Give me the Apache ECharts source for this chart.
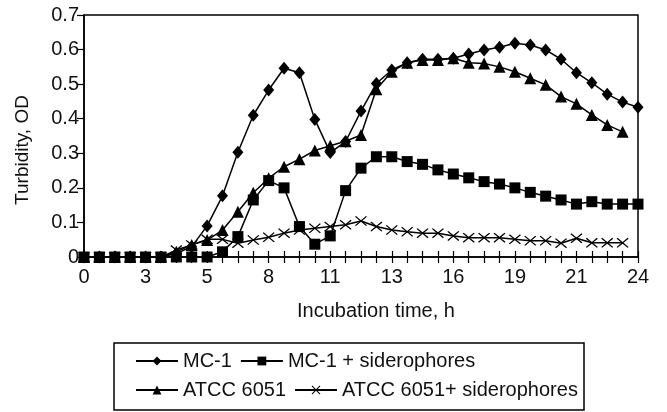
<!DOCTYPE html>
<html>
<head>
<meta charset="utf-8">
<script src="https://cdn.jsdelivr.net/npm/echarts@6/dist/echarts.min.js"></script>
<style>
  html, body { margin: 0; padding: 0; background: #fff; }
  #chart { width: 667px; height: 412px; }
</style>
</head>
<body>
<div id="chart"></div>
<script>
// Sampling every 40 min, 0 - 24 h
const times = [
  "0:00", "0:40", "1:20", "2:00", "2:40", "3:20", "4:00", "4:40", "5:20", "6:00",
  "6:40", "7:20", "8:00", "8:40", "9:20", "10:00", "10:40", "11:20", "12:00", "12:40",
  "13:20", "14:00", "14:40", "15:20", "16:00", "16:40", "17:20", "18:00", "18:40", "19:20",
  "20:00", "20:40", "21:20", "22:00", "22:40", "23:20", "24:00",
];
const tickLabels = ["0", "3", "5", "8", "11", "13", "16", "19", "21", "24"];

const mc1 = [
  0, 0, 0, 0, 0, 0, 0.01, 0.03, 0.09, 0.177,
  0.303, 0.41, 0.483, 0.546, 0.533, 0.398, 0.302, 0.334, 0.422, 0.502,
  0.541, 0.562, 0.572, 0.572, 0.575, 0.587, 0.599, 0.607, 0.618, 0.613,
  0.599, 0.572, 0.533, 0.504, 0.471, 0.448, 0.433,
];
const mc1Sid = [
  0, 0, 0, 0, 0, 0, 0, 0, 0, 0.015,
  0.059, 0.165, 0.221, 0.2, 0.088, 0.037, 0.061, 0.192, 0.257, 0.29,
  0.29, 0.276, 0.268, 0.252, 0.24, 0.229, 0.218, 0.211, 0.2, 0.187,
  0.176, 0.165, 0.153, 0.16, 0.153, 0.153, 0.153,
];
const atcc = [
  0, 0, 0, 0, 0, 0, 0.015, 0.035, 0.049, 0.078,
  0.131, 0.186, 0.228, 0.261, 0.283, 0.308, 0.322, 0.335, 0.353, 0.485,
  0.536, 0.562, 0.57, 0.57, 0.575, 0.562, 0.56, 0.55, 0.536, 0.517,
  0.498, 0.464, 0.443, 0.411, 0.382, 0.362, null,
];
const atccSid = [
  0, 0, 0, 0, 0, 0, 0.02, 0.035, 0.051, 0.051,
  0.04, 0.049, 0.057, 0.069, 0.078, 0.083, 0.088, 0.093, 0.104, 0.088,
  0.078, 0.073, 0.069, 0.069, 0.061, 0.056, 0.056, 0.056, 0.051, 0.047,
  0.047, 0.04, 0.054, 0.041, 0.041, 0.041, null,
];

const FONT = "'Liberation Sans', Arial, Helvetica, sans-serif";
const crossPath =
  "path://M0,0.8L0.8,0L5,4.2L9.2,0L10,0.8L5.8,5L10,9.2L9.2,10L5,5.8L0.8,10L0,9.2L4.2,5Z";

const chart = echarts.init(document.getElementById("chart"));

function makeSeries(name, data, symbol, size) {
  return {
    name: name,
    type: "line",
    data: data,
    symbol: symbol,
    symbolSize: size,
    showAllSymbol: true,
    connectNulls: false,
    lineStyle: { color: "#000", width: 1.5 },
    itemStyle: { color: "#000", borderWidth: 0 },
    emphasis: { disabled: true },
    animation: false,
  };
}

const legendCommon = {
  left: 130,
  itemWidth: 42,
  itemHeight: 11,
  itemGap: 8,
  textStyle: { fontFamily: FONT, fontSize: 20, color: "#111" },
  selectedMode: false,
};

const option = {
  backgroundColor: "#fff",
  grid: {
    left: 84,
    right: 29,
    top: 15,
    bottom: 155,
    show: true,
    borderColor: "#000",
    borderWidth: 1.5,
  },
  xAxis: [
    {
      type: "category",
      data: times,
      boundaryGap: false,
      name: "Incubation time, h",
      nameLocation: "middle",
      nameGap: 44,
      nameTextStyle: { fontFamily: FONT, fontSize: 20, color: "#111", padding: [0, 0, 0, 30] },
      axisLine: { lineStyle: { color: "#000", width: 1.5 } },
      axisTick: { show: true, interval: 0, length: 6, lineStyle: { color: "#000", width: 1.2 } },
      axisLabel: {
        interval: 3,
        margin: 10,
        fontFamily: FONT,
        fontSize: 20,
        color: "#111",
        formatter: (v, i) => tickLabels[i / 4],
      },
      splitLine: { show: false },
    },
    {
      // inner half of the crossing ticks
      type: "category",
      data: times,
      boundaryGap: false,
      position: "bottom",
      axisLine: { show: false },
      axisTick: { show: true, inside: true, interval: 0, length: 6, lineStyle: { color: "#000", width: 1.2 } },
      axisLabel: { show: false },
      splitLine: { show: false },
    },
  ],
  yAxis: {
    type: "value",
    min: 0,
    max: 0.7,
    interval: 0.1,
    name: "Turbidity, OD",
    nameLocation: "middle",
    nameGap: 52,
    nameTextStyle: { fontFamily: FONT, fontSize: 19, color: "#111", padding: [0, 28, 0, 0] },
    axisLine: { show: true, lineStyle: { color: "#000", width: 1.5 } },
    axisTick: { show: true, length: 7, lineStyle: { color: "#000", width: 1.2 } },
    axisLabel: {
      margin: 5,
      fontFamily: FONT,
      fontSize: 20,
      color: "#111",
      formatter: (v) => (v === 0 ? "0" : v.toFixed(1)),
    },
    splitLine: { show: false },
  },
  legend: [
    Object.assign({ data: ["MC-1", "MC-1 + siderophores"], top: 346 }, legendCommon),
    Object.assign({ data: ["ATCC 6051", "ATCC 6051+ siderophores"], top: 375 }, legendCommon),
  ],
  graphic: [
    {
      type: "rect",
      shape: { x: 114, y: 343, width: 470, height: 67 },
      style: { fill: "none", stroke: "#000", lineWidth: 1.5 },
      silent: true,
    },
  ],
  series: [
    makeSeries("MC-1", mc1, "diamond", [11, 13]),
    makeSeries("ATCC 6051", atcc, "triangle", 12),
    makeSeries("ATCC 6051+ siderophores", atccSid, crossPath, [12, 10]),
    makeSeries("MC-1 + siderophores", mc1Sid, "rect", 11),
  ],
};

chart.setOption(option);
</script>
</body>
</html>
